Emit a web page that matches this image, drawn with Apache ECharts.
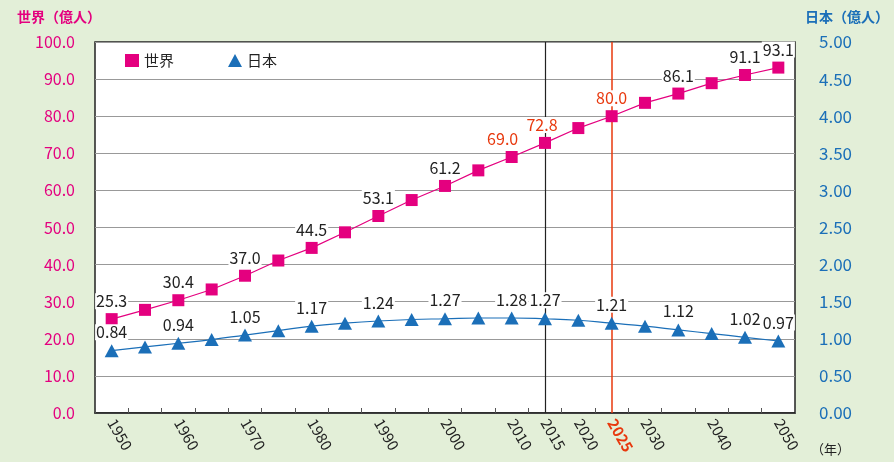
<!DOCTYPE html>
<html><head><meta charset="utf-8">
<script src="https://cdn.jsdelivr.net/npm/echarts@6/dist/echarts.min.js"></script>
<style>html,body{margin:0;padding:0;background:#e3efd8;}#c{width:894px;height:462px;}</style>
</head><body><div id="c"></div>
<script>
var years = ['1950','1955','1960','1965','1970','1975','1980','1985','1990','1995','2000','2005','2010','2015','2020','2025','2030','2035','2040','2045','2050'];
var world = [25.3,27.8,30.4,33.3,37.0,41.1,44.5,48.7,53.1,57.4,61.2,65.4,69.0,72.8,76.8,80.0,83.6,86.1,88.9,91.1,93.1];
var japan = [0.84,0.89,0.94,0.99,1.05,1.11,1.17,1.21,1.24,1.26,1.27,1.28,1.28,1.27,1.25,1.21,1.17,1.12,1.07,1.02,0.97];
var worldLabelYears = ['1950','1960','1970','1980','1990','2000','2010','2015','2025','2035','2045','2050'];
var worldRedYears = ['2010','2015','2025'];
var japanLabelYears = ['1950','1960','1970','1980','1990','2000','2010','2015','2025','2035','2045','2050'];
var xLabelYears = ['1950','1960','1970','1980','1990','2000','2010','2015','2020','2025','2030','2040','2050'];
var leftTicks = {min:0, max:100, interval:10};
var rightTicks = {min:0, max:5, interval:0.5};

var PINK = '#e4007f', BLUE = '#1b6fb8', RED = '#e8380d';
var FONT = '"Noto Sans CJK JP","Noto Sans",sans-serif';

var worldData = world.map(function(v,i){
  var y = years[i];
  var show = worldLabelYears.indexOf(y) >= 0;
  var red = worldRedYears.indexOf(y) >= 0;
  var lbl = {show:show, color: red ? RED : '#222'};
  if (y === '2010') lbl.offset = [-9, 0];
  if (y === '2015') lbl.offset = [-3, 0];
  return {value:v, label:lbl};
});
var japanData = japan.map(function(v,i){
  var show = japanLabelYears.indexOf(years[i]) >= 0;
  return {value:v, label:{show:show}};
});

var chart = echarts.init(document.getElementById('c'));
chart.setOption({
  backgroundColor:'#e3efd8',
  textStyle:{fontFamily:FONT},
  animation:false,
  grid:{left:95, right:99, top:42, bottom:49, show:true, backgroundColor:'#fff', borderColor:'#222', borderWidth:1.5, containLabel:false},
  legend:{left:120, top:48, itemGap:54, itemWidth:14, itemHeight:13,
    textStyle:{fontSize:15, color:'#222', fontFamily:FONT},
    data:[{name:'世界', icon:'rect'},{name:'日本', icon:'triangle'}]},
  title:[
    {text:'世界（億人）', left:12, top:5, textStyle:{fontSize:14, fontWeight:'bold', color:PINK, fontFamily:FONT}},
    {text:'日本（億人）', left:800, top:5, textStyle:{fontSize:14, fontWeight:'bold', color:BLUE, fontFamily:FONT}},
    {text:'（年）', left:806, top:438, textStyle:{fontSize:13, fontWeight:'normal', color:'#222', fontFamily:FONT}}
  ],
  xAxis:{type:'category', data:years, boundaryGap:true,
    axisLine:{show:true, lineStyle:{color:'#222', width:1.5}},
    axisTick:{show:true, inside:true, length:5, alignWithLabel:false, interval:0, lineStyle:{color:'#555'}},
    axisLabel:{interval:0, rotate:-60, margin:7, fontSize:15, color:'#222', fontFamily:FONT,
      formatter:function(v){ if(xLabelYears.indexOf(v)<0) return ''; return v==='2025' ? '{r|'+v+'}' : v; },
      rich:{r:{color:RED, fontWeight:'bold', fontSize:15, fontFamily:FONT}}},
    splitLine:{show:false}},
  yAxis:[
    {type:'value', min:leftTicks.min, max:leftTicks.max, interval:leftTicks.interval, position:'left',
      axisLine:{show:false}, axisTick:{show:false},
      axisLabel:{margin:20, fontSize:16, color:PINK, fontFamily:FONT, formatter:function(v){return v.toFixed(1);}},
      splitLine:{show:true, lineStyle:{color:'#999', width:1}}},
    {type:'value', min:rightTicks.min, max:rightTicks.max, interval:rightTicks.interval, position:'right',
      axisLine:{show:false}, axisTick:{show:false},
      axisLabel:{margin:24, fontSize:17, color:BLUE, fontFamily:FONT, formatter:function(v){return v.toFixed(2);}},
      splitLine:{show:false}}
  ],
  series:[
    {name:'世界', type:'line', yAxisIndex:0, data:worldData, symbol:'rect', symbolSize:12,
      itemStyle:{color:PINK}, lineStyle:{color:PINK, width:1.2}, z:5,
      label:{position:'top', distance:4, fontSize:16, backgroundColor:'#fff', padding:[0,1], fontFamily:FONT,
        formatter:function(p){return p.value.toFixed(1);}},
      markLine:{silent:true, symbol:'none', label:{show:false}, z:1,
        data:[{xAxis:'2015', lineStyle:{color:'#222', width:1.2, type:'solid'}},
              {xAxis:'2025', lineStyle:{color:RED, width:1.5, type:'solid'}}]}},
    {name:'日本', type:'line', yAxisIndex:1, data:japanData, symbol:'triangle', symbolSize:[14,13], smooth:true,
      itemStyle:{color:BLUE}, lineStyle:{color:BLUE, width:1.2}, z:5,
      label:{position:'top', distance:4, fontSize:16, color:'#222', backgroundColor:'#fff', padding:[0,1], fontFamily:FONT,
        formatter:function(p){return p.value.toFixed(2);}}}
  ]
});
</script></body></html>
